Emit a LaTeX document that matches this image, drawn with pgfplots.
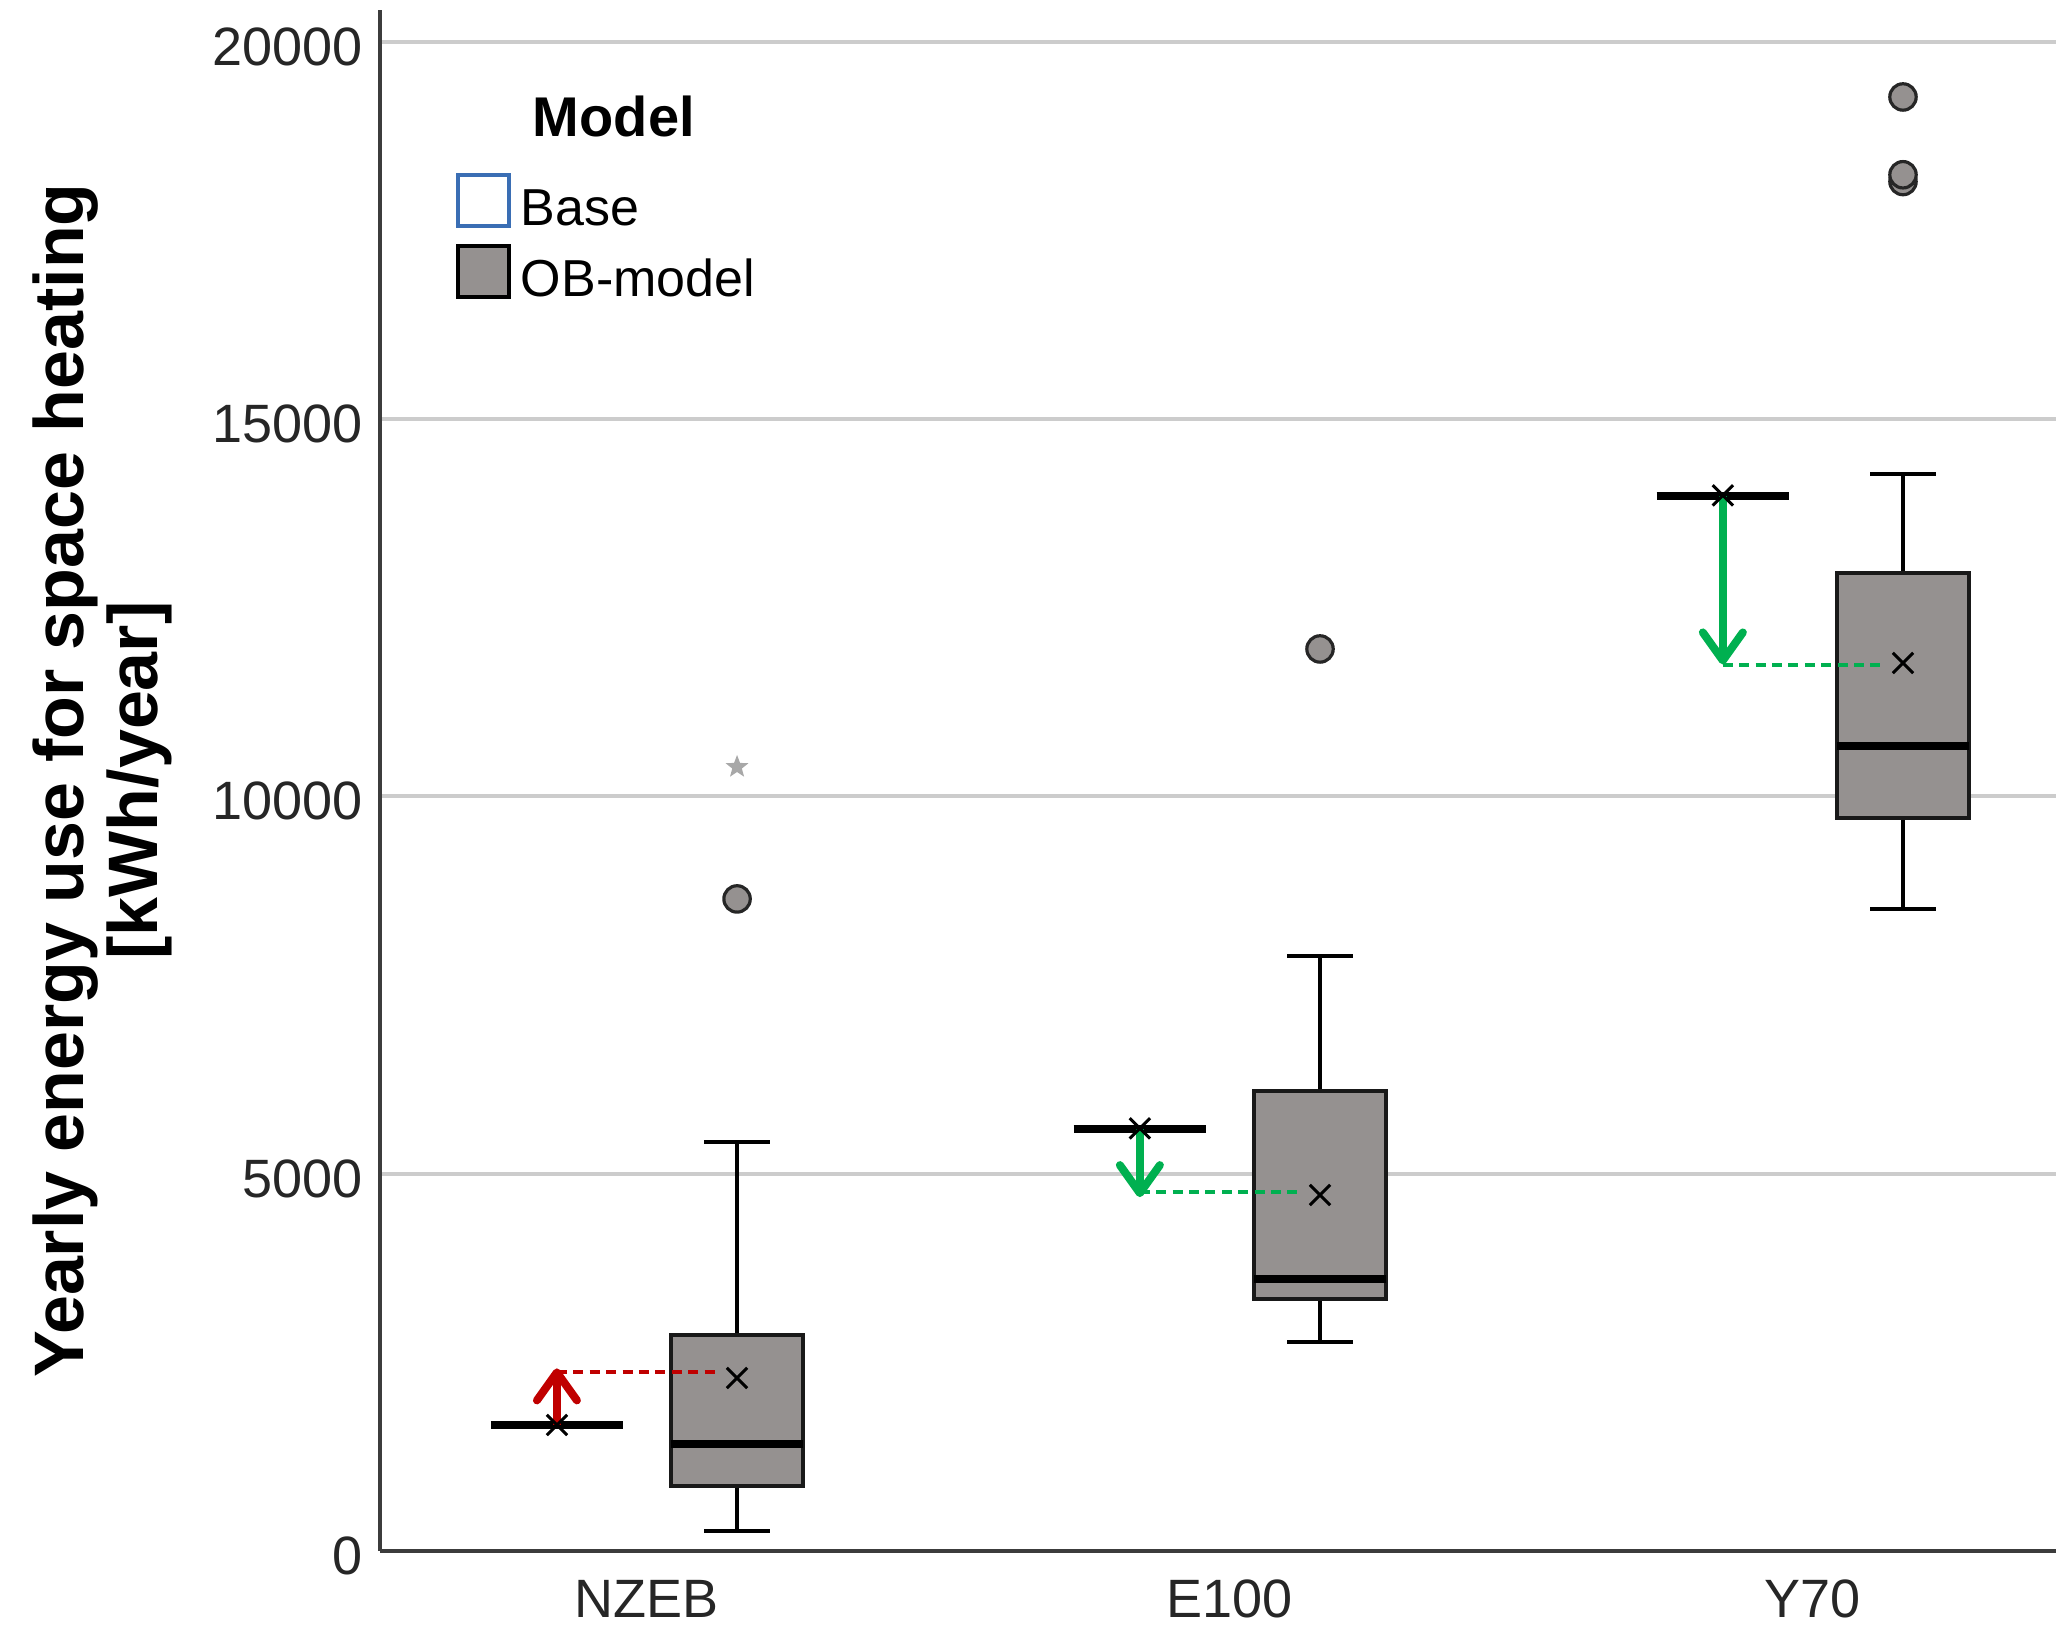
\documentclass[border=0pt]{standalone}
\usepackage{fontspec}
\setmainfont{Liberation Sans}
\usepackage{pgfplots}
\pgfplotsset{compat=1.18}
\usetikzlibrary{arrows.meta}
\definecolor{boxgray}{RGB}{149,145,144}
\definecolor{gridgray}{RGB}{204,204,204}
\definecolor{axisgray}{RGB}{60,60,60}
\definecolor{arrowred}{RGB}{192,0,0}
\definecolor{arrowgreen}{RGB}{0,176,80}
\definecolor{legblue}{RGB}{58,110,180}
\definecolor{stargray}{RGB}{168,168,168}
\pgfdeclareplotmark{fstar}{%
  \pgfpathmoveto{\pgfpointpolar{90}{1\pgfplotmarksize}}%
  \pgfpathlineto{\pgfpointpolar{126}{0.42\pgfplotmarksize}}%
  \pgfpathlineto{\pgfpointpolar{162}{1\pgfplotmarksize}}%
  \pgfpathlineto{\pgfpointpolar{198}{0.42\pgfplotmarksize}}%
  \pgfpathlineto{\pgfpointpolar{234}{1\pgfplotmarksize}}%
  \pgfpathlineto{\pgfpointpolar{270}{0.42\pgfplotmarksize}}%
  \pgfpathlineto{\pgfpointpolar{306}{1\pgfplotmarksize}}%
  \pgfpathlineto{\pgfpointpolar{342}{0.42\pgfplotmarksize}}%
  \pgfpathlineto{\pgfpointpolar{18}{1\pgfplotmarksize}}%
  \pgfpathlineto{\pgfpointpolar{54}{0.42\pgfplotmarksize}}%
  \pgfpathclose\pgfusepathqfill}
\begin{document}
\begin{tikzpicture}
\begin{axis}[
  at={(0,0)}, anchor=south west,
  scale only axis, width=419pt, height=385.25pt,
  xmin=-0.458, xmax=2.417, ymin=0, ymax=20424,
  axis lines*=left,
  axis line style={axisgray, line width=1.2pt},
  xtick={0,1,2}, xticklabels={NZEB,E100,Y70},
  ytick={0,5000,10000,15000,20000},
  major tick length=0pt,
  ymajorgrids, grid style={gridgray, line width=1pt},
  tick label style={font=\fontsize{13.5}{16}\selectfont, text=black!85},
  /pgf/number format/assume math mode=true,
  /pgf/number format/1000 sep={},
  scaled y ticks=false,
  xticklabel style={yshift=-3.75pt},
  yticklabel style={xshift=-0.75pt, yshift=-1.2pt},
  ylabel={Yearly energy use for space heating\\{[kWh/year]}},
  ylabel style={at={([xshift=-69.5pt]axis description cs:0,0.5)}, anchor=center, align=center,
    font=\fontsize{17.5}{18.5}\selectfont\bfseries},
  legend image code/.code={\draw[#1] (0pt,-6.375pt) rectangle (12.75pt,6.375pt);},
  legend style={at={(axis description cs:0,1)}, anchor=north west, xshift=19pt, yshift=-21.5pt,
    draw=none, fill=none, inner sep=0pt, outer sep=0pt, row sep=4pt, column sep=2.5pt,
    font=\fontsize{13}{15}\selectfont, nodes={inner sep=0pt, text height=12.75pt, text depth=0pt}},
  legend cell align=left,
]
\addlegendimage{empty legend}
\addlegendentry[text height=10.2pt, text depth=5pt]{\hspace*{3pt}\fontsize{14}{16}\selectfont\bfseries Model}
\addlegendimage{fill=white, draw=legblue, line width=1pt}
\addlegendentry{Base}
\addlegendimage{fill=boxgray, draw=black, line width=1pt}
\addlegendentry{OB-model}

% ---- OB-model: NZEB (x=0.1545) ----
\addplot[black, line width=1pt] coordinates {(0.1545,2863) (0.1545,5421)};
\addplot[black, line width=1pt] coordinates {(0.1545,861) (0.1545,265)};
\addplot[black, line width=1pt] coordinates {(0.098,5421) (0.211,5421)};
\addplot[black, line width=1pt] coordinates {(0.098,265) (0.211,265)};
\addplot[fill=boxgray, draw=black!90, line width=1.1pt] coordinates {(0.0415,861) (0.2675,861) (0.2675,2863) (0.0415,2863)} -- cycle;
\addplot[black, line width=2pt] coordinates {(0.0415,1418) (0.2675,1418)};
% ---- OB-model: E100 (x=1.1545) ----
\addplot[black, line width=1pt] coordinates {(1.1545,6097) (1.1545,7886)};
\addplot[black, line width=1pt] coordinates {(1.1545,3340) (1.1545,2770)};
\addplot[black, line width=1pt] coordinates {(1.098,7886) (1.211,7886)};
\addplot[black, line width=1pt] coordinates {(1.098,2770) (1.211,2770)};
\addplot[fill=boxgray, draw=black!90, line width=1.1pt] coordinates {(1.0415,3340) (1.2675,3340) (1.2675,6097) (1.0415,6097)} -- cycle;
\addplot[black, line width=2pt] coordinates {(1.0415,3605) (1.2675,3605)};
% ---- OB-model: Y70 (x=2.1545) ----
\addplot[black, line width=1pt] coordinates {(2.1545,12962) (2.1545,14274)};
\addplot[black, line width=1pt] coordinates {(2.1545,9715) (2.1545,8509)};
\addplot[black, line width=1pt] coordinates {(2.098,14274) (2.211,14274)};
\addplot[black, line width=1pt] coordinates {(2.098,8509) (2.211,8509)};
\addplot[fill=boxgray, draw=black!90, line width=1.1pt] coordinates {(2.0415,9715) (2.2675,9715) (2.2675,12962) (2.0415,12962)} -- cycle;
\addplot[black, line width=2pt] coordinates {(2.0415,10669) (2.2675,10669)};

% ---- Base (all values equal: a single line) ----
\addplot[black, line width=2pt] coordinates {(-0.268,1670) (-0.041,1670)};
\addplot[black, line width=2pt] coordinates {(0.732,5593) (0.959,5593)};
\addplot[black, line width=2pt] coordinates {(1.732,13983) (1.959,13983)};

% outliers
\addplot[only marks, mark=*, mark size=3.3pt, mark options={fill=boxgray, draw=black!85, line width=0.8pt}]
  coordinates {(0.1545,8642) (1.1545,11955) (2.1545,19271) (2.1545,18150) (2.1545,18240)};
\addplot[only marks, mark=fstar, mark size=3pt, color=stargray]
  coordinates {(0.1545,10391)};

% dashed guides
\addplot[arrowred, line width=0.8pt, dash pattern=on 2.5pt off 1.6pt]
  coordinates {(-0.1545,2372) (0.12,2372)};
\addplot[arrowgreen, line width=0.8pt, dash pattern=on 2.5pt off 1.6pt]
  coordinates {(0.8455,4758) (1.12,4758)};
\addplot[arrowgreen, line width=0.8pt, dash pattern=on 2.5pt off 1.6pt]
  coordinates {(1.8455,11743) (2.12,11743)};

% means
\addplot[only marks, mark=x, mark size=3.6pt, black, mark options={line width=0.75pt}]
  coordinates {(-0.1545,1670) (0.1545,2293) (0.8455,5600) (1.1545,4718) (1.8455,13990) (2.1545,11770)};

% arrows
\addplot[arrowred, line width=2pt, -{Straight Barb[length=7pt, width=10pt, line cap=round, line join=round]}]
  coordinates {(-0.1545,1670) (-0.1545,2420)};
\addplot[arrowgreen, line width=2pt, -{Straight Barb[length=7pt, width=10pt, line cap=round, line join=round]}]
  coordinates {(0.8455,5593) (0.8455,4690)};
\addplot[arrowgreen, line width=2pt, -{Straight Barb[length=7pt, width=10pt, line cap=round, line join=round]}]
  coordinates {(1.8455,13983) (1.8455,11750)};
\end{axis}
\pgfresetboundingbox
\path[use as bounding box] (-95pt,-20.5pt) rectangle (419pt,387.75pt);
\end{tikzpicture}
\end{document}
